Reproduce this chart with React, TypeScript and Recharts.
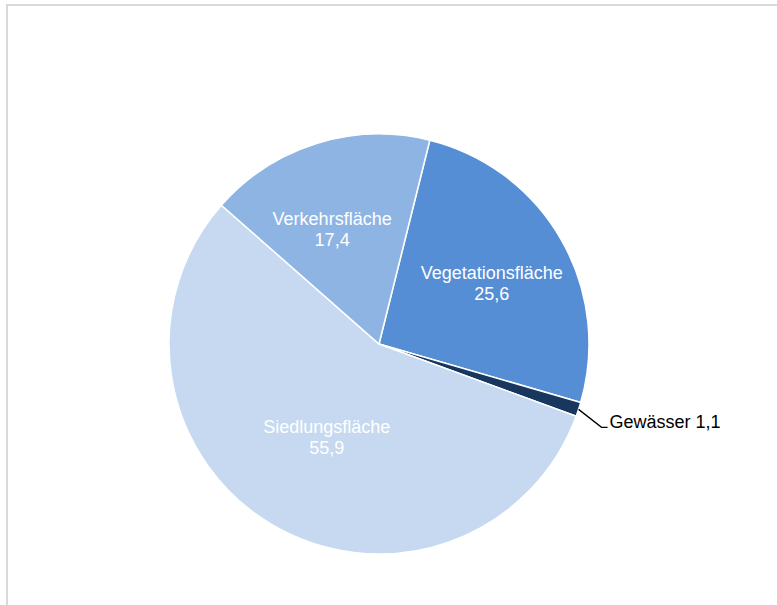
import { Cell, Pie, PieChart } from "recharts";

const categories = ["Vegetationsfläche", "Gewässer", "Siedlungsfläche", "Verkehrsfläche"];
const shares = [25.6, 1.1, 55.9, 17.4];
const colors = ["#558ed5", "#17375e", "#c6d9f1", "#8eb4e3"];

// label placement tweaks (radius factor, angle shift in degrees) to mimic Excel best fit
const labelRadius = [0.61, 1, 0.51, 0.59];
const labelShift = [-1.6, 0, 1.5, 4.9];

const font = "'Liberation Sans', Arial, sans-serif";
const rows = categories.map((name, i) => ({ name, value: shares[i] }));
const fmt = (v: number) => v.toFixed(1).replace(".", ",");
const RAD = Math.PI / 180;

function renderLabel(props: any) {
  const { cx, cy, midAngle, outerRadius, index } = props;
  const name = categories[index];
  const value = fmt(shares[index]);
  if (name === "Gewässer") {
    const sx = cx + outerRadius * Math.cos(-midAngle * RAD);
    const sy = cy + outerRadius * Math.sin(-midAngle * RAD);
    const mx = sx + 23;
    const my = sy + 18;
    return (
      <g>
        <polyline points={`${sx},${sy} ${mx},${my} ${mx + 6},${my}`} stroke="#000" strokeWidth={1.3} fill="none" />
        <text x={mx + 8} y={my - 5} fill="#000" fontSize={18} fontFamily={font} dominantBaseline="central">
          {`${name} ${value}`}
        </text>
      </g>
    );
  }
  const a = (midAngle + labelShift[index]) * RAD;
  const r = outerRadius * labelRadius[index];
  const x = cx + r * Math.cos(-a);
  const y = cy + r * Math.sin(-a);
  return (
    <text x={x} y={y} fill="#fff" fontSize={18} fontFamily={font} textAnchor="middle" dominantBaseline="central">
      <tspan x={x} y={y - 10.5}>{name}</tspan>
      <tspan x={x} y={y + 10.5}>{value}</tspan>
    </text>
  );
}

export default function App() {
  return (
    <div style={{ position: "fixed", left: 0, top: 0, width: 777, height: 605, overflow: "hidden", background: "#fff" }}>
      <PieChart width={777} height={605} margin={{ top: 0, right: 0, bottom: 0, left: 0 }}>
        <rect x={7} y={5} width={820} height={700} fill="none" stroke="#d9d9d9" strokeWidth={2} />
        <Pie
          data={rows}
          dataKey="value"
          nameKey="name"
          cx={379}
          cy={344}
          outerRadius={210}
          startAngle={76}
          endAngle={-284}
          stroke="#fff"
          strokeWidth={1.5}
          label={renderLabel}
          labelLine={false}
          isAnimationActive={false}
        >
          {rows.map((row, i) => (
            <Cell key={row.name} fill={colors[i]} />
          ))}
        </Pie>
      </PieChart>
    </div>
  );
}
